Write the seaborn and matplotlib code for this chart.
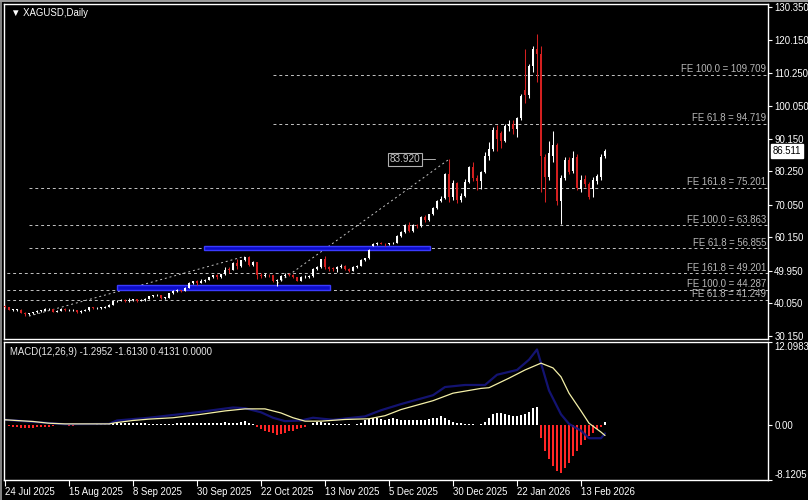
import numpy as np
import pandas as pd
import matplotlib
matplotlib.use('Agg')
import matplotlib.pyplot as plt
import seaborn as sns
from matplotlib.patches import Rectangle
from matplotlib.lines import Line2D

# daily XAGUSD candles, bar 0 = 24 Jul 2025, bar 150 = 23 Feb 2026
opens = [39.3, 39.0, 38.2, 38.2, 38.2, 37.3, 36.7, 37.0, 37.4, 37.8,
         37.8, 38.3, 38.3, 37.6, 37.9, 38.5, 38.0, 38.0, 38.1, 37.4,
         37.9, 38.1, 38.9, 38.6, 38.7, 38.7, 39.1, 39.7, 40.7, 40.9,
         41.2, 40.7, 41.2, 41.3, 40.9, 41.1, 41.4, 42.2, 42.5, 42.6,
         41.7, 41.8, 43.1, 43.9, 44.1, 43.9, 44.9, 46.3, 46.8, 46.4,
         47.0, 47.3, 48.0, 48.6, 48.0, 48.9, 50.3, 50.2, 52.5, 51.4,
         53.2, 54.1, 51.9, 52.6, 48.7, 48.5, 48.7, 48.6, 46.9, 47.2,
         48.5, 48.8, 48.7, 48.1, 47.0, 48.0, 48.1, 48.3, 50.5, 51.0,
         53.5, 51.0, 50.6, 50.5, 51.2, 51.5, 50.6, 50.0, 51.2, 51.4,
         53.4, 53.8, 57.6, 58.2, 58.5, 58.2, 58.0, 58.4, 58.6, 60.7,
         61.8, 63.9, 62.1, 63.9, 63.6, 66.4, 65.4, 67.2, 69.1, 71.2,
         72.0, 79.3, 72.3, 76.8, 71.6, 72.9, 77.1, 81.5, 78.2, 77.2,
         80.0, 85.0, 87.0, 92.8, 92.0, 89.6, 94.2, 94.8, 93.0, 96.4,
         105.0, 103.5, 112.2, 117.5, 116.0, 84.5, 78.5, 85.0, 88.3, 71.2,
         78.2, 83.7, 80.5, 84.5, 74.8, 78.0, 76.5, 75.0, 77.2, 78.5,
         84.8]
highs = [39.5, 39.1, 38.5, 38.4, 38.3, 37.5, 37.3, 37.6, 38.0, 38.1,
         38.6, 38.6, 38.4, 38.1, 38.7, 38.6, 38.3, 38.3, 38.2, 38.1,
         38.3, 39.1, 39.0, 38.9, 38.9, 39.3, 39.9, 40.9, 41.1, 41.5,
         41.3, 41.6, 41.5, 41.4, 41.3, 41.6, 42.4, 42.7, 42.9, 42.7,
         42.1, 43.3, 44.0, 44.4, 44.3, 45.1, 46.5, 47.0, 47.1, 47.4,
         47.5, 48.2, 48.8, 48.9, 49.1, 51.2, 51.0, 52.7, 53.6, 53.4,
         54.3, 54.5, 52.9, 52.7, 49.3, 49.2, 49.0, 48.7, 47.6, 48.7,
         49.2, 49.3, 49.0, 48.2, 48.3, 48.6, 48.6, 50.7, 51.3, 53.7,
         54.4, 51.5, 51.2, 51.5, 52.0, 51.8, 50.9, 51.4, 51.8, 53.6,
         54.0, 56.6, 58.4, 58.8, 58.9, 58.5, 58.6, 58.8, 60.9, 62.0,
         64.2, 64.7, 64.3, 64.2, 66.6, 66.9, 67.4, 69.4, 71.5, 72.6,
         79.6, 83.92, 77.5, 77.0, 73.6, 77.8, 82.0, 83.2, 79.0, 80.5,
         86.2, 89.3, 93.6, 94.4, 92.6, 94.6, 95.9, 95.9, 96.8, 103.8,
         117.5, 113.0, 118.5, 122.0, 118.5, 85.5, 89.5, 92.5, 89.0, 79.0,
         84.5, 84.5, 86.3, 85.5, 79.2, 79.0, 77.0, 78.5, 79.5, 85.5,
         87.2]
lows = [38.8, 38.0, 37.9, 37.8, 37.1, 36.2, 36.4, 36.9, 37.2, 37.5,
        37.7, 38.0, 37.4, 37.5, 37.8, 37.8, 37.7, 37.8, 37.2, 37.3,
        37.7, 37.9, 38.4, 38.4, 38.5, 38.6, 39.0, 39.6, 40.5, 40.7,
        40.4, 40.6, 40.9, 40.6, 40.7, 40.9, 41.3, 42.0, 42.3, 41.4,
        41.5, 41.7, 42.9, 43.6, 43.5, 43.8, 44.8, 46.0, 45.7, 46.2,
        46.6, 47.2, 47.8, 47.6, 47.9, 48.7, 49.3, 50.1, 50.6, 51.2,
        52.9, 51.6, 51.5, 47.5, 47.8, 48.0, 48.0, 46.6, 45.5, 47.0,
        48.2, 48.3, 47.9, 46.9, 46.8, 47.8, 47.7, 48.2, 50.2, 50.9,
        50.6, 49.8, 50.0, 49.6, 50.9, 50.2, 49.6, 49.8, 50.9, 51.3,
        53.1, 53.6, 57.4, 57.8, 58.0, 57.6, 57.8, 58.0, 58.4, 60.3,
        61.6, 61.8, 61.9, 63.0, 63.4, 64.9, 65.2, 67.0, 68.9, 70.8,
        71.8, 71.0, 71.5, 70.5, 71.0, 72.5, 76.8, 77.2, 74.5, 75.0,
        79.6, 83.7, 86.5, 86.3, 87.3, 89.2, 92.4, 91.6, 90.8, 96.0,
        101.0, 102.5, 110.5, 107.5, 74.0, 71.0, 77.5, 83.0, 70.0, 64.2,
        77.5, 79.5, 79.8, 74.5, 74.0, 75.5, 71.8, 72.5, 76.5, 77.5,
        84.2]
closes = [39.0, 38.2, 38.2, 38.2, 37.3, 36.7, 37.0, 37.4, 37.8, 37.8,
          38.3, 38.3, 37.6, 37.9, 38.5, 38.0, 38.0, 38.1, 37.4, 37.9,
          38.1, 38.9, 38.6, 38.7, 38.7, 39.1, 39.7, 40.7, 40.9, 41.2,
          40.7, 41.2, 41.3, 40.9, 41.1, 41.4, 42.2, 42.5, 42.6, 41.7,
          41.8, 43.1, 43.9, 44.1, 43.9, 44.9, 46.3, 46.8, 46.4, 47.0,
          47.3, 48.0, 48.6, 48.0, 48.9, 50.3, 50.2, 52.5, 51.4, 53.2,
          54.1, 51.9, 52.6, 48.7, 48.5, 48.7, 48.6, 46.9, 47.2, 48.5,
          48.8, 48.7, 48.1, 47.0, 48.0, 48.1, 48.3, 50.5, 51.0, 53.5,
          51.0, 50.6, 50.5, 51.2, 51.5, 50.6, 50.0, 51.2, 51.4, 53.4,
          53.8, 56.4, 58.2, 58.5, 58.2, 58.0, 58.4, 58.6, 60.7, 61.8,
          63.9, 62.1, 63.9, 63.6, 66.4, 65.4, 67.2, 69.1, 71.2, 71.9,
          79.3, 72.3, 76.8, 71.6, 72.9, 77.1, 81.5, 78.2, 77.2, 80.0,
          85.0, 87.0, 92.8, 90.0, 89.6, 94.2, 94.8, 93.0, 96.4, 103.3,
          103.5, 112.2, 117.5, 116.0, 85.0, 78.5, 85.8, 88.3, 71.2, 78.2,
          83.7, 80.2, 84.2, 75.3, 77.6, 76.3, 72.5, 77.5, 78.7, 84.7,
          86.5]

# MACD(12,26,9) panel
hist = [0.0,
        -0.2, -0.3, -0.4, -0.5, -0.5, -0.5, -0.45, -0.4, -0.4, -0.35, -0.3, -0.2,
        -0.1, -0.05, -0.1, -0.15, -0.15, -0.1, -0.1, -0.05, 0.0, 0.0, 0.05, 0.05, 0.1, 0.15,
        0.2, 0.25, 0.3, 0.3, 0.25, 0.3, 0.3, 0.25, 0.2, 0.15, 0.1,
        0.05, 0.05, 0.05, 0.1,
        0.15, 0.2, 0.2, 0.25, 0.3, 0.3, 0.3, 0.25, 0.25, 0.2, 0.2, 0.25, 0.3, 0.35, 0.3,
        0.25, 0.2, 0.35, 0.5, 0.3, 0.1,
        -0.3, -0.6, -0.9, -1.1, -1.3, -1.5, -1.4, -1.2, -1.0, -0.9, -0.7, -0.5, -0.3, -0.1,
        0.3, 0.4, 0.35, 0.25, 0.2, 0.15, 0.1, 0.05, 0.05, 0.02, 0.0, 0.05, 0.3,
        0.6, 0.8, 1.0, 0.9, 0.8, 0.7, 0.8, 0.9, 0.8, 0.7,
        0.6, 0.7, 0.6, 0.6, 0.7, 0.7, 0.8, 0.9, 0.9, 1.3,
        1.0, 0.6, 0.4, 0.3, 0.2, 0.15, 0.1, 0.05, 0.0, 0.1, 0.4, 1.0,
        1.5, 1.7, 1.7, 1.6, 1.4, 1.2, 1.2, 1.4, 1.6, 1.9, 2.4, 2.6,
        -2.0, -3.9, -5.0, -6.0, -6.8, -7.1, -6.4, -5.6, -4.6, -3.8, -3.0, -2.3, -1.7,
        -1.2, -0.7, -0.3, 0.4]
macd_bars = [0, 7, 15, 26, 28, 36, 48, 57, 60, 64, 67, 70, 74, 77, 82, 90, 94, 99,
             107, 110, 115, 120, 123, 128, 131, 133, 134, 136, 139, 141, 144, 146, 149, 150]
macd_vals = [0.7, 0.4, 0.05, 0.1, 0.6, 1.0, 1.8, 2.5, 2.4, 1.8, 1.0, 0.5, 0.6, 1.0, 0.7, 1.2, 2.1, 3.0,
             4.3, 5.5, 5.8, 5.8, 7.3, 8.0, 9.5, 11.0, 9.0, 5.0, 1.5, 0.1, -0.9, -2.0, -2.0, -1.3]
sig_bars = [0, 7, 11, 15, 26, 28, 32, 36, 42, 49, 55, 60, 65, 69, 72, 75, 79, 85, 91, 95, 99,
            107, 112, 119, 121, 126, 130, 134, 137, 139, 141, 144, 146, 149, 150]
sig_vals = [0.7, 0.45, 0.2, 0.1, 0.1, 0.3, 0.6, 0.8, 1.0, 1.5, 2.0, 2.3, 2.3, 1.7, 1.0, 0.5, 0.5, 0.75,
            0.85, 1.3, 2.2, 3.5, 4.6, 5.3, 5.4, 6.8, 8.0, 9.0, 8.3, 7.0, 4.6, 2.0, 0.2, -1.1, -1.6]

date_bars = [0, 16, 32, 48, 64, 80, 96, 112, 128, 144]
date_labels = ['24 Jul 2025', '15 Aug 2025', '8 Sep 2025', '30 Sep 2025', '22 Oct 2025',
               '13 Nov 2025', '5 Dec 2025', '30 Dec 2025', '22 Jan 2026', '13 Feb 2026']
price_ticks = [130.35, 120.15, 110.25, 100.05, 90.15, 80.25, 70.05, 60.15, 49.95, 40.05, 30.15]
macd_ticks = [12.0983, 0.0, -8.1205]
macd_tick_labels = ['12.0983', '0.00', '-8.1205']

# fibonacci expansion levels and the bar where each line starts
fe_names = ['FE 100.0', 'FE 61.8', 'FE 161.8', 'FE 100.0', 'FE 61.8', 'FE 161.8', 'FE 100.0', 'FE 61.8']
fe_levels = [109.709, 94.719, 75.201, 63.863, 56.855, 49.201, 44.287, 41.249]
fe_start = [67, 67, 6, 6, 6, -1, -1, -1]
# blue zones: (first bar, last bar, low, high)
zones = [(28, 81.3, 44.2, 45.8), (49.8, 106.3, 56.2, 57.5)]
last_price = 86.511

sns.set_theme(style='dark', rc={'axes.facecolor': 'black', 'figure.facecolor': 'black',
                                'axes.edgecolor': 'white', 'axes.grid': False})
plt.rcParams['font.family'] = ['Liberation Sans', 'DejaVu Sans']
fs = 6.9

fig = plt.figure(figsize=(8.08, 5.0), dpi=100)
ax = fig.add_axes([4 / 808, 1 - 339 / 500, 764 / 808, 335.5 / 500])
ax2 = fig.add_axes([4 / 808, 1 - 480 / 500, 764 / 808, 138 / 500])
xlim = (-0.25, 190.75)

# candles
bars = np.arange(len(closes))
o = np.array(opens)
c = np.array(closes)
col = np.where(c >= o, '#ffffff', '#d42020')
ax.vlines(bars, lows, highs, colors=col, lw=0.75, zorder=3)
ax.bar(bars, np.maximum(np.abs(c - o), 0.2), bottom=np.minimum(o, c), width=0.7,
       color=col, linewidth=0, zorder=4)

for x0, x1, lo, hi in zones:
    ax.add_patch(Rectangle((x0, lo), x1 - x0, hi - lo, facecolor='#0c0cc8',
                           edgecolor='#3a3aff', lw=1.0, zorder=2))

for name, lvl, st in zip(fe_names, fe_levels, fe_start):
    ax.hlines(lvl, st, xlim[1], colors='#c4c4c4', linestyles=(0, (3, 3)), lw=0.7, zorder=1)
    ax.annotate(f'{name} = {lvl:.3f}', xy=(1, lvl), xycoords=('axes fraction', 'data'),
                xytext=(-1.5, 0.5), textcoords='offset points', ha='right', va='bottom',
                fontsize=fs, color='#b8b8b8')

# expansion anchor lines
ax.plot([6, 60], [36.2, 54.4], color='#c4c4c4', lw=0.7, ls=(0, (2, 3)), zorder=1)
ax.plot([67, 111], [45.2, 83.92], color='#c4c4c4', lw=0.7, ls=(0, (2, 3)), zorder=1)
ax.plot([104.4, 107.5], [83.92, 83.92], color='#b0b0b0', lw=0.7, zorder=1)
ax.text(100.0, 83.92, '83.920', fontsize=fs + 0.3, color='#c8c8c8', ha='center', va='center',
        bbox=dict(boxstyle='square,pad=0.15', fc='black', ec='#b0b0b0', lw=0.8))

ax.set_xlim(*xlim)
ax.set_ylim(29.24, 131.32)
ax.set_xticks([])
ax.yaxis.tick_right()
ax.set_yticks(price_ticks)
ax.set_yticklabels([f'{v:.3f}' for v in price_ticks])
ax.tick_params(axis='y', colors='white', labelsize=fs, length=3, width=0.8, pad=1.5,
               direction='out', right=True)
ax.annotate('\u25bc XAGUSD,Daily', xy=(0, 1), xycoords='axes fraction', xytext=(5, -3.5),
            textcoords='offset points', ha='left', va='top', fontsize=fs, color='white')
ax.annotate(f'{last_price:.3f}', xy=(1, last_price), xycoords=('axes fraction', 'data'),
            xytext=(3.2, 0), textcoords='offset points', ha='left', va='center', fontsize=fs,
            color='black', bbox=dict(boxstyle='square,pad=0.2', fc='white', ec='white'))

# MACD panel
hcol = ['#ffffff' if v >= 0 else '#ff2626' for v in hist]
ax2.bar(bars, hist, width=0.3, color=hcol, linewidth=0)
macd_df = pd.DataFrame({'bar': macd_bars, 'v': macd_vals})
sig_df = pd.DataFrame({'bar': sig_bars, 'v': sig_vals})
sns.lineplot(data=macd_df, x='bar', y='v', ax=ax2, color='#16167e', lw=1.6, alpha=0.9)
sns.lineplot(data=sig_df, x='bar', y='v', ax=ax2, color='#f4f0a8', lw=0.9)
ax2.set_xlim(*xlim)
ax2.set_ylim(-8.1205, 12.0983)
ax2.set_xlabel('')
ax2.set_ylabel('')
ax2.yaxis.tick_right()
ax2.set_yticks(macd_ticks)
ax2.set_yticklabels(macd_tick_labels)
ax2.tick_params(axis='y', colors='white', labelsize=fs, length=3, width=0.8, pad=1.5,
                direction='out', right=True)
ylabs = ax2.get_yticklabels()
ylabs[0].set_va('top')
ylabs[-1].set_va('bottom')
ax2.set_xticks(date_bars)
ax2.set_xticklabels(date_labels)
ax2.tick_params(axis='x', colors='white', labelsize=fs, length=4, width=0.8, pad=1,
                direction='out', bottom=True)
for lbl in ax2.get_xticklabels():
    lbl.set_ha('left')
ax2.annotate('MACD(12,26,9) -1.2952 -1.6130 0.4131 0.0000', xy=(0, 1), xycoords='axes fraction',
             xytext=(4, -3.5), textcoords='offset points', ha='left', va='top',
             fontsize=fs, color='#e8e8e8')

for a in (ax, ax2):
    for sp in a.spines.values():
        sp.set_color('white')
        sp.set_linewidth(1.0)

fig.add_artist(Line2D([0, 1], [0.998, 0.998], transform=fig.transFigure, color='#9a9a9a', lw=1.5))
fig.add_artist(Line2D([0.001, 0.001], [0, 1], transform=fig.transFigure, color='#9a9a9a', lw=1.2))

fig.savefig('out.png', dpi=100, facecolor='black')
